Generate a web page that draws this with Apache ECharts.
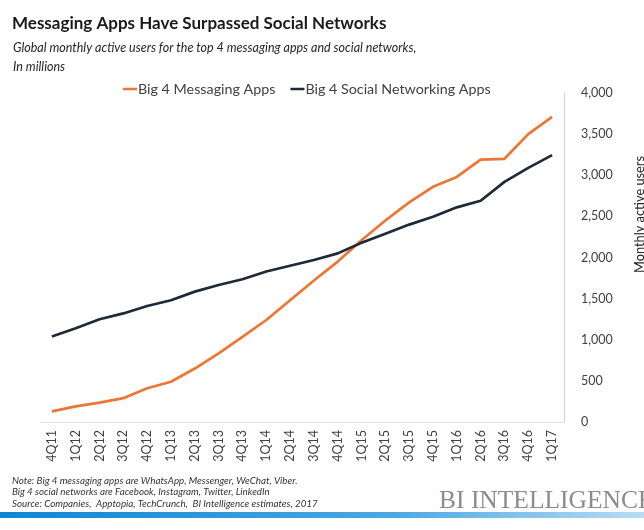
<!DOCTYPE html>
<html>
<head>
<meta charset="utf-8">
<script src="https://cdn.jsdelivr.net/npm/echarts@6/dist/echarts.min.js"></script>
<style>
  html, body { margin: 0; padding: 0; background: #ffffff; }
  #chart { width: 644px; height: 530px; }
</style>
</head>
<body>
<div id="chart"></div>
<script>
const categories = ['4Q11','1Q12','2Q12','3Q12','4Q12','1Q13','2Q13','3Q13','4Q13','1Q14','2Q14','3Q14','4Q14','1Q15','2Q15','3Q15','4Q15','1Q16','2Q16','3Q16','4Q16','1Q17'];
const messagingApps = [130, 190, 235, 290, 410, 490, 650, 835, 1035, 1240, 1480, 1720, 1950, 2210, 2450, 2670, 2860, 2980, 3190, 3200, 3500, 3710];
const socialApps = [1040, 1140, 1250, 1320, 1410, 1480, 1585, 1665, 1735, 1830, 1900, 1970, 2050, 2180, 2290, 2400, 2495, 2610, 2690, 2920, 3090, 3245];
const yTicks = [0, 500, 1000, 1500, 2000, 2500, 3000, 3500, 4000];
const seriesNames = ['Big 4 Messaging Apps', 'Big 4 Social Networking Apps'];

const FONT = 'Lato';
const chart = echarts.init(document.getElementById('chart'), null, { renderer: 'canvas' });

chart.setOption({
  backgroundColor: '#ffffff',
  animation: false,
  title: [
    { text: 'Messaging Apps Have Surpassed Social Networks', left: 7, top: 10,
      textStyle: { fontFamily: FONT, fontWeight: 'bold', fontSize: 17, color: '#1a1a1a' } },
    { text: 'Global monthly active users for the top 4 messaging apps and social networks,\nIn millions', left: 8, top: 33,
      textStyle: { fontFamily: FONT, fontStyle: 'italic', fontSize: 12.5, lineHeight: 19, color: '#262626', fontWeight: 'normal' } },
    { text: 'Note: Big 4 messaging apps are WhatsApp, Messenger, WeChat, Viber.\nBig 4 social networks are Facebook, Instagram, Twitter, LinkedIn\nSource: Companies,  Apptopia, TechCrunch,  BI Intelligence estimates, 2017', left: 7, top: 470,
      textStyle: { fontFamily: FONT, fontStyle: 'italic', fontSize: 9.8, lineHeight: 11.5, color: '#333333', fontWeight: 'normal' } },
    { text: 'BI INTELLIGENCE', left: 434, top: 483,
      textStyle: { fontFamily: 'Liberation Serif', fontSize: 25.5, color: '#8c8c8c', fontWeight: 'normal' } }
  ],
  legend: {
    data: seriesNames,
    left: 118, top: 77,
    icon: 'rect', itemWidth: 14, itemHeight: 2.5, itemGap: 15,
    textStyle: { fontFamily: FONT, fontSize: 14.3, color: '#404040', padding: [0, 0, 0, -4] }
  },
  grid: { left: 40, right: 80, top: 93, bottom: 108, containLabel: false },
  xAxis: {
    type: 'category', data: categories, boundaryGap: true,
    axisLine: { show: true, lineStyle: { color: '#e3e3e3', width: 1 } },
    axisTick: { show: false },
    axisLabel: { rotate: 90, margin: 8, fontFamily: FONT, fontSize: 12.5, color: '#404040', interval: 0 }
  },
  yAxis: {
    type: 'value', position: 'right', min: yTicks[0], max: yTicks[yTicks.length - 1], interval: yTicks[1] - yTicks[0],
    axisLine: { show: true, lineStyle: { color: '#d0d0d0', width: 1 } },
    axisTick: { show: false },
    splitLine: { show: false },
    axisLabel: { margin: 17, align: 'left', fontFamily: FONT, fontSize: 12.5, color: '#404040',
      formatter: v => v.toLocaleString('en-US') }
  },
  graphic: [
    { type: 'text', x: 633, y: 273, rotation: Math.PI / 2,
      style: { text: 'Monthly active users', fontFamily: FONT, fontSize: 12.8, fill: '#262626', textAlign: 'left', textVerticalAlign: 'top' } },
    { type: 'rect', shape: { x: 0, y: 512, width: 644, height: 6 },
      style: { fill: new echarts.graphic.LinearGradient(0, 0, 1, 0, [
        { offset: 0, color: '#0f86d2' }, { offset: 0.6, color: '#4aa7e2' }, { offset: 1, color: '#b7dcf4' }]) } }
  ],
  series: [
    { name: seriesNames[0], type: 'line', data: messagingApps, showSymbol: false, symbol: 'none',
      lineStyle: { color: '#ee7633', width: 2.7 }, itemStyle: { color: '#ee7633' } },
    { name: seriesNames[1], type: 'line', data: socialApps, showSymbol: false, symbol: 'none',
      lineStyle: { color: '#1e2a36', width: 2.7 }, itemStyle: { color: '#1e2a36' } }
  ]
});
</script>
</body>
</html>
